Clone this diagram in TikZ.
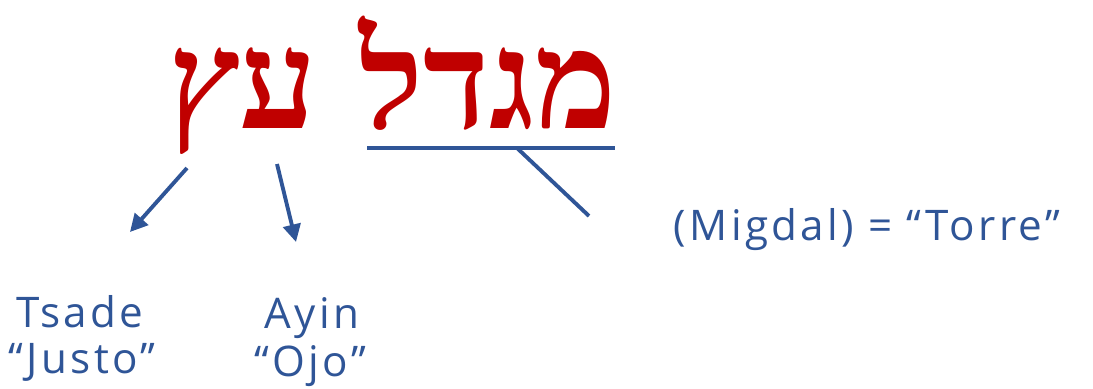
\documentclass[tikz,border=0pt]{standalone}
\usepackage{fontspec}
\setmainfont{Open Sans}[LetterSpace=8]
\newfontfamily\hebfont[Script=Hebrew]{Liberation Serif}
\TeXXeTstate=1
\usepackage{tikz}
\definecolor{wordred}{RGB}{192, 0, 0}
\definecolor{inkblue}{RGB}{47, 85, 151}
\usetikzlibrary{arrows.meta, positioning, calc}

\begin{document}
\begin{tikzpicture}[x=0.02cm, y=-0.02cm,
    hebrew/.style={text=wordred, font=\hebfont\bfseries\fontsize{78}{84}\selectfont, inner sep=0pt, anchor=base},
    gloss/.style={text=inkblue, font=\fontsize{24}{28}\selectfont, inner sep=0pt},
    pointer/.style={draw=inkblue, line width=2.2pt, -{Triangle[length=10pt, width=10pt]}},
    stroke/.style={draw=inkblue, line width=2.2pt}
]
    % Canvas
    \useasboundingbox (0,0) rectangle (1093,389);

    % Hebrew words
    \node[hebrew] (migdal) at (488,128) {\beginR מגדל\endR};
    \node[hebrew] (ets) at (243,128) {\beginR עץ\endR};

    % Underline below Migdal
    \coordinate (ulleft) at (367,148);
    \coordinate (ulright) at (615,148);
    \coordinate (ulmid) at (517,148);
    \coordinate (ulend) at (589,216);
    \draw[stroke] (ulleft) -- (ulright);
    \draw[stroke] (ulmid) -- (ulend);

    % Letter glosses
    \node[gloss] (tsade) at (80,312) {Tsade};
    \node[gloss] (justo) at (82,362) {“Justo”};
    \node[gloss] (ayin) at (312,318) {Ayin};
    \node[gloss] (ojo) at (310,366) {“Ojo”};

    % Arrows from the letters
    \coordinate (tsadetop) at (187,168);
    \coordinate (tsadetip) at (130,232);
    \coordinate (ayintop) at (277,164);
    \coordinate (ayintip) at (296,242);
    \draw[pointer] (tsadetop) -- (tsadetip);
    \draw[pointer] (ayintop) -- (ayintip);

    % Meaning of the word
    \node[gloss] (torre) at (867,230) {(Migdal) = “Torre”};
\end{tikzpicture}
\end{document}
